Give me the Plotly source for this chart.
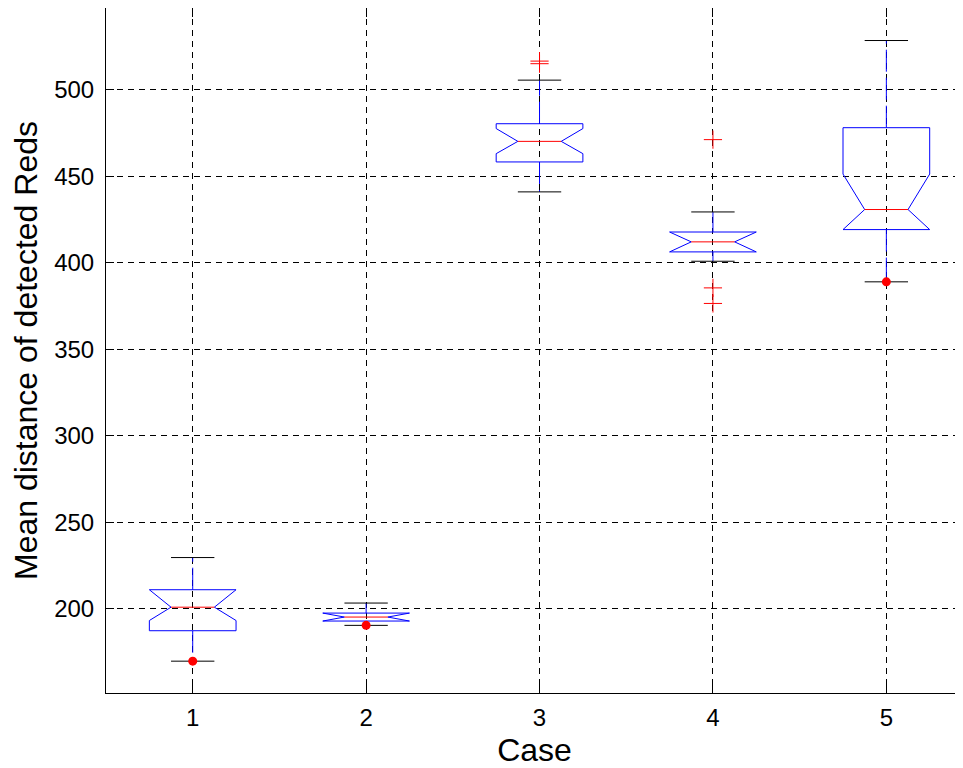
import plotly.graph_objects as go

# ---- data ----
cases = [1, 2, 3, 4, 5]
q1 = [187.3, 192.9, 458.3, 406.3, 419.2]
medians = [200.9, 195.2, 470.2, 412.1, 430.8]
q3 = [211.0, 197.5, 480.4, 417.8, 478.1]
notch_lo = [193.2, 192.9, 463.1, 406.3, 419.2]
notch_hi = [211.0, 197.5, 477.6, 417.8, 451.3]
whisker_lo = [169.7, 190.4, 441.0, 400.9, 389.0]
whisker_hi = [229.6, 203.3, 505.6, 429.4, 528.5]
outlier_case = [3, 3, 4, 4, 4]
outlier_val = [516.6, 515.1, 471.2, 385.5, 376.5]
dot_case = [1, 2, 5]
dot_val = [169.7, 190.4, 389.0]
tick_vals = [200, 250, 300, 350, 400, 450, 500]

# ---- style ----
HW = 0.25    # half box width
NW = 0.125   # half notch width
CW = 0.125   # half cap width
BLUE = "#0000ff"
RED = "#ff0000"

fig = go.Figure()

for i, p in enumerate(cases):
    # whiskers (blue, dashed)
    for a, b in ((q3[i], whisker_hi[i]), (q1[i], whisker_lo[i])):
        fig.add_trace(go.Scatter(x=[p, p], y=[a, b], mode="lines",
                                 line=dict(color=BLUE, width=1, dash="22px,6px"),
                                 hoverinfo="skip", showlegend=False))
    # caps (black)
    for w in (whisker_hi[i], whisker_lo[i]):
        fig.add_trace(go.Scatter(x=[p - CW, p + CW], y=[w, w], mode="lines",
                                 line=dict(color="black", width=1),
                                 hoverinfo="skip", showlegend=False))
    # notched box outline
    bx = [p - HW, p - HW, p - NW, p - HW, p - HW, p + HW, p + HW, p + NW, p + HW, p + HW, p - HW]
    by = [q1[i], notch_lo[i], medians[i], notch_hi[i], q3[i], q3[i], notch_hi[i],
          medians[i], notch_lo[i], q1[i], q1[i]]
    fig.add_trace(go.Scatter(x=bx, y=by, mode="lines",
                             line=dict(color=BLUE, width=1),
                             hoverinfo="skip", showlegend=False))
    # median
    fig.add_trace(go.Scatter(x=[p - NW, p + NW], y=[medians[i], medians[i]], mode="lines",
                             line=dict(color=RED, width=1),
                             hoverinfo="skip", showlegend=False))

# outliers
fig.add_trace(go.Scatter(x=outlier_case, y=outlier_val, mode="markers",
                         marker=dict(symbol="cross-thin", size=13,
                                     line=dict(color=RED, width=1)),
                         showlegend=False))
# red dots
fig.add_trace(go.Scatter(x=dot_case, y=dot_val, mode="markers",
                         marker=dict(symbol="circle", size=9, color=RED),
                         showlegend=False))

FONT = "Liberation Sans, Arial, sans-serif"
# the page body adds an 8px offset, so the figure is sized to fit the window
fig.update_layout(
    width=955, height=760,
    margin=dict(l=98, r=0, t=0, b=75, autoexpand=False),
    paper_bgcolor="white", plot_bgcolor="white",
    font=dict(family=FONT, color="black", size=24),
    showlegend=False,
)
fig.update_xaxes(
    range=[0.5, 5.442], tickmode="array", tickvals=cases,
    ticktext=[str(c) for c in cases],
    showline=True, linecolor="black", linewidth=1, mirror="ticks",
    ticks="inside", ticklen=9, tickcolor="black",
    showgrid=True, gridcolor="black", gridwidth=1, griddash="6px,5px",
    zeroline=False, tickfont=dict(size=24), automargin=False,
    ticklabelstandoff=3,
    title=dict(text="Case", font=dict(size=32), standoff=13),
)
fig.update_yaxes(
    range=[151.3, 547.3], tickmode="array", tickvals=tick_vals,
    showline=True, linecolor="black", linewidth=1, mirror=False,
    ticks="inside", ticklen=8, tickcolor="black",
    showgrid=True, gridcolor="black", gridwidth=1, griddash="6px,5px",
    zeroline=False, tickfont=dict(size=24), automargin=False,
    ticklabelstandoff=6,
    title=dict(text="Mean distance of detected Reds", font=dict(size=32), standoff=8),
)

fig.write_html("out.html")
